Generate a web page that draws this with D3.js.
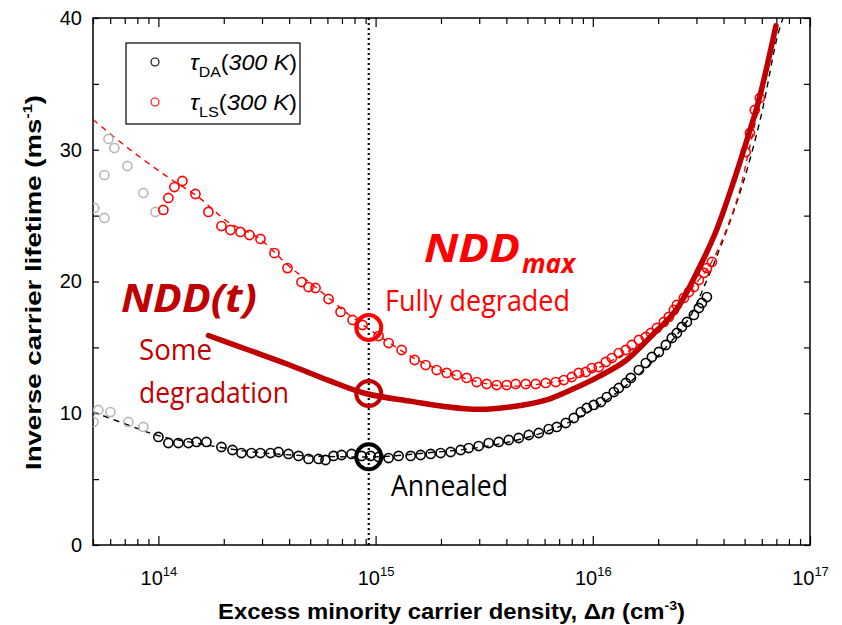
<!DOCTYPE html>
<html>
<head>
<meta charset="utf-8">
<script src="https://cdn.jsdelivr.net/npm/d3@7"></script>
<style>
  body { margin: 0; background: #fff; }
  svg text { font-family: "Liberation Sans", Arial, sans-serif; }
  .anno { font-family: "Open Sans", "Noto Sans", sans-serif; }
</style>
</head>
<body>
<div id="chart"></div>
<script>
// tau_DA (annealed) - grey points at low injection, then black
const daGrayX = [5.02e13, 5.29e13, 6.01e13, 7.27e13, 8.53e13];
const daGrayY = [9.34, 10.25, 10.09, 9.34, 8.96];
const daX = [1.00e14, 1.112e14, 1.236e14, 1.375e14, 1.497e14, 1.664e14, 1.951e14, 2.193e14, 2.413e14, 2.683e14,
  2.951e14, 3.282e14, 3.573e14, 3.972e14, 4.417e14, 4.912e14, 5.463e14, 5.883e14, 6.405e14, 6.972e14,
  7.751e14, 8.617e14, 9.482e14, 1.032e15, 1.148e15, 1.276e15, 1.450e15, 1.612e15, 1.793e15, 1.993e15,
  2.216e15, 2.464e15, 2.683e15, 2.983e15, 3.317e15, 3.688e15, 4.101e15, 4.560e15, 5.070e15, 5.638e15,
  6.268e15, 6.823e15, 7.509e15, 8.179e15, 8.806e15, 9.383e15, 1.011e16, 1.089e16, 1.160e16, 1.250e16,
  1.318e16, 1.419e16, 1.497e16, 1.629e16, 1.754e16, 1.871e16, 2.014e16, 2.169e16, 2.312e16, 2.438e16,
  2.571e16, 2.711e16, 2.920e16, 3.079e16, 3.178e16, 3.352e16];
const daY = [8.20, 7.74, 7.74, 7.74, 7.82, 7.82, 7.44, 7.21, 6.98, 6.98,
  6.98, 6.98, 7.06, 6.91, 6.76, 6.53, 6.53, 6.45, 6.76, 6.83,
  6.91, 6.76, 6.76, 6.68, 6.60, 6.76, 6.76, 6.83, 6.91, 6.98,
  7.06, 7.21, 7.36, 7.51, 7.74, 7.82, 7.97, 8.12, 8.35, 8.50,
  8.80, 8.96, 9.26, 9.64, 10.09, 10.40, 10.63, 10.85, 11.23, 11.61,
  11.92, 12.30, 12.68, 13.28, 13.81, 14.27, 14.65, 15.18, 15.71, 16.09,
  16.55, 16.93, 17.46, 17.99, 18.37, 18.82];

// tau_LS (light soaked) - grey points at low injection, then red
const lsGrayX = [5.07e13, 5.64e13, 5.64e13, 5.89e13, 6.27e13, 7.20e13, 8.53e13, 9.69e13];
const lsGrayY = [25.58, 24.82, 28.08, 30.82, 30.13, 28.77, 26.72, 25.28];
const lsX = [1.054e14, 1.112e14, 1.185e14, 1.290e14, 1.481e14, 1.700e14, 1.951e14, 2.147e14, 2.387e14, 2.627e14,
  2.951e14, 3.424e14, 3.930e14, 4.560e14, 4.912e14, 5.290e14, 6.073e14, 6.900e14, 7.834e14, 8.710e14,
  1.032e15, 1.148e15, 1.318e15, 1.513e15, 1.700e15, 1.910e15, 2.124e15, 2.361e15, 2.626e15, 2.920e15,
  3.247e15, 3.610e15, 4.014e15, 4.416e15, 4.911e15, 5.461e15, 6.073e15, 6.751e15, 7.353e15, 8.004e15,
  8.618e15, 9.284e15, 9.892e15, 1.066e16, 1.148e16, 1.224e16, 1.318e16, 1.419e16, 1.513e16, 1.629e16,
  1.754e16, 1.851e16, 1.972e16, 2.124e16, 2.239e16, 2.362e16, 2.438e16, 2.626e16, 2.769e16, 2.920e16,
  3.079e16, 3.247e16, 3.352e16, 3.535e16, 5.06e16, 5.29e16, 5.57e16, 5.88e16];
const lsY = [25.43, 26.34, 27.17, 27.63, 26.64, 25.28, 24.21, 23.91, 23.76, 23.53,
  23.23, 22.16, 21.02, 19.96, 19.58, 19.51, 18.67, 17.69, 17.08, 16.70,
  15.86, 15.33, 14.80, 14.04, 13.66, 13.28, 13.06, 12.90, 12.68, 12.37,
  12.22, 12.14, 12.14, 12.22, 12.22, 12.22, 12.30, 12.37, 12.52, 12.75,
  13.06, 13.13, 13.43, 13.51, 13.89, 14.19, 14.57, 14.80, 15.18, 15.56,
  15.79, 16.09, 16.47, 16.93, 17.31, 17.84, 18.22, 18.75, 19.20, 19.58,
  20.11, 20.65, 21.02, 21.48, 29.83, 31.27, 33.02, 33.93];

// dashed fits
const daFitX = [5e13, 7.28e13, 1e14, 1.53e14, 2.60e14, 4.42e14, 6.75e14, 1.03e15, 1.75e15, 2.99e15,
  5.07e15, 7.74e15, 1.07e16, 1.47e16, 2.01e16, 2.77e16, 3.35e16, 3.93e16, 4.86e16, 5.94e16, 7.05e16, 7.51e16];
const daFitY = [10.1, 9.1, 8.3, 7.7, 7.1, 6.8, 6.7, 6.7, 7.0, 7.4,
  8.2, 9.3, 10.6, 12.3, 14.4, 17.2, 20.1, 22.9, 27.2, 32.5, 38.5, 40.0];
const lsFitX = [5e13, 7.28e13, 1.11e14, 1.53e14, 2.10e14, 2.89e14, 3.97e14, 5.46e14, 7.51e14, 1.03e15,
  1.58e15, 2.41e15, 3.69e15, 5.64e15, 8.61e15, 1.32e16, 2.01e16, 2.77e16, 3.53e16, 4.61e16, 5.24e16, 5.95e16];
const lsFitY = [32.3, 30.1, 27.9, 26.4, 24.5, 23.3, 21.2, 19.4, 17.5, 15.9,
  14.0, 12.8, 12.1, 12.2, 12.8, 14.3, 16.3, 19.2, 21.5, 26.2, 30.0, 34.0];

// NDD(t) - partially degraded curve
const nddX = [1.70e14, 2.60e14, 3.97e14, 6.07e14, 9.00e14, 1.47e15, 2.10e15, 2.99e15, 4.24e15, 6.07e15,
  8.00e15, 1.07e16, 1.42e16, 1.87e16, 2.41e16, 3.08e16, 3.69e16, 4.37e16, 5.07e16, 5.82e16, 6.97e16];
const nddY = [15.9, 14.8, 13.7, 12.5, 11.5, 10.9, 10.5, 10.3, 10.5, 11.0,
  11.8, 12.8, 14.0, 15.9, 17.8, 21.0, 23.8, 27.2, 30.5, 33.8, 39.4];

// highlighted states at the marked injection level
const markX = 9.3e14;
const ringY = [16.5, 11.5, 6.7];
const ringColors = ["#ff0000", "#c00000", "#000000"];

const xMajor = [1e14, 1e15, 1e16, 1e17];
const xMinor = [];
[1e13, 1e14, 1e15, 1e16].forEach(d => { for (let k = 2; k <= 9; k++) if (k * d >= 5e13) xMinor.push(k * d); });
const yMajor = [0, 10, 20, 30, 40];
const yMinor = [5, 15, 25, 35];

const W = 842, H = 625;
const m = { top: 18, right: 32, bottom: 80, left: 93 };
const iw = W - m.left - m.right, ih = H - m.top - m.bottom;

const svg = d3.select('#chart').append('svg').attr('width', W).attr('height', H);
const g = svg.append('g').attr('transform', `translate(${m.left},${m.top})`);

const x = d3.scaleLog().domain([5e13, 1e17]).range([0, iw]);
const y = d3.scaleLinear().domain([0, 40]).range([ih, 0]);

svg.append('defs').append('clipPath').attr('id', 'clip')
  .append('rect').attr('width', iw).attr('height', ih);

// axes (ticks pointing inward)
const axisStyle = sel => {
  sel.select('.domain').remove();
  sel.selectAll('line').attr('stroke', '#000').attr('stroke-width', 1.2);
};
g.append('g').attr('transform', `translate(0,${ih})`)
  .call(d3.axisBottom(x).tickValues(xMinor).tickSize(-6).tickFormat('')).call(axisStyle);
const xb = g.append('g').attr('transform', `translate(0,${ih})`)
  .call(d3.axisBottom(x).tickValues(xMajor).tickSize(-9).tickFormat('')).call(axisStyle);
xb.selectAll('.tick').append('text')
  .attr('y', 40).attr('fill', '#000').attr('text-anchor', 'middle')
  .style('font-size', '20px')
  .each(function (d) {
    const t = d3.select(this);
    t.append('tspan').text('10');
    t.append('tspan').attr('dy', -9).style('font-size', '13px').text(Math.round(Math.log10(d)));
  });
g.append('g').call(d3.axisTop(x).tickValues(xMinor).tickSize(-6).tickFormat('')).call(axisStyle);
g.append('g').call(d3.axisTop(x).tickValues(xMajor).tickSize(-9).tickFormat('')).call(axisStyle);

g.append('g').call(d3.axisLeft(y).tickValues(yMinor).tickSize(-6).tickFormat('')).call(axisStyle);
const yl = g.append('g').call(d3.axisLeft(y).tickValues(yMajor).tickSize(-6)).call(axisStyle);
yl.selectAll('text').style('font-size', '20px').attr('fill', '#000').attr('x', -11);
g.append('g').attr('transform', `translate(${iw},0)`)
  .call(d3.axisRight(y).tickValues(yMajor.concat(yMinor)).tickSize(-6).tickFormat('')).call(axisStyle);

g.append('rect').attr('width', iw).attr('height', ih)
  .attr('fill', 'none').attr('stroke', '#000').attr('stroke-width', 1.5);

// axis titles
svg.append('text').attr('x', 218).attr('y', 619)
  .attr('textLength', 467).attr('lengthAdjust', 'spacingAndGlyphs')
  .style('font-size', '22px').style('font-weight', 'bold')
  .html('Excess minority carrier density, Δ<tspan font-style="italic">n</tspan> (cm<tspan dy="-9" font-size="13">-3</tspan><tspan dy="9">)</tspan>');
svg.append('text').attr('transform', 'translate(41,470) rotate(-90)')
  .attr('textLength', 375).attr('lengthAdjust', 'spacingAndGlyphs')
  .style('font-size', '22px').style('font-weight', 'bold')
  .html('Inverse carrier lifetime (ms<tspan dy="-9" font-size="13">-1</tspan><tspan dy="9">)</tspan>');

const plot = g.append('g').attr('clip-path', 'url(#clip)');

// dotted marker line
plot.append('line').attr('x1', x(markX)).attr('x2', x(markX)).attr('y1', 0).attr('y2', ih)
  .attr('stroke', '#000').attr('stroke-width', 2.2).attr('stroke-dasharray', '2,3');

const line = d3.line().curve(d3.curveCatmullRom);
const pts = (xs, ys) => xs.map((d, i) => [x(d), y(ys[i])]);

plot.append('path').attr('d', line(pts(daFitX, daFitY)))
  .attr('fill', 'none').attr('stroke', '#000').attr('stroke-width', 1.4).attr('stroke-dasharray', '6,5');
plot.append('path').attr('d', line(pts(lsFitX, lsFitY)))
  .attr('fill', 'none').attr('stroke', '#ff0000').attr('stroke-width', 1.4).attr('stroke-dasharray', '6,5');

const drawPoints = (xs, ys, color) => {
  plot.append('g').selectAll('circle')
    .data(xs.map((d, i) => [d, ys[i]]))
    .join('circle')
    .attr('cx', d => x(d[0])).attr('cy', d => y(d[1])).attr('r', 4.6)
    .attr('fill', 'none').attr('stroke', color).attr('stroke-width', 1.6);
};
drawPoints(lsGrayX, lsGrayY, '#b8b8b8');
drawPoints(daGrayX, daGrayY, '#b8b8b8');
drawPoints(lsX, lsY, '#ff0000');
drawPoints(daX, daY, '#000');

plot.append('path').attr('d', line(pts(nddX, nddY)))
  .attr('fill', 'none').attr('stroke', '#c00000').attr('stroke-width', 5.5).attr('stroke-linecap', 'round');

g.selectAll('.ring').data(ringY).join('circle')
  .attr('cx', x(markX)).attr('cy', d => y(d)).attr('r', 12.5)
  .attr('fill', 'none').attr('stroke', (d, i) => ringColors[i]).attr('stroke-width', 4);

// legend
const lg = svg.append('g');
lg.append('rect').attr('x', 126).attr('y', 43).attr('width', 174).attr('height', 81)
  .attr('fill', '#fff').attr('stroke', '#000').attr('stroke-width', 1.2);
[['DA', '#000', 62], ['LS', '#ff0000', 102]].forEach(([sub, c, cy]) => {
  lg.append('circle').attr('cx', 155).attr('cy', cy).attr('r', 4).attr('fill', 'none').attr('stroke', c).attr('stroke-width', 1.1);
  lg.append('text').attr('x', 190).attr('y', cy + 8).style('font-size', '22px')
    .attr('textLength', 107).attr('lengthAdjust', 'spacingAndGlyphs')
    .html(`<tspan font-style="italic">τ</tspan><tspan dy="7" font-size="15">${sub}</tspan><tspan dy="-7">(</tspan><tspan font-style="italic">300 K</tspan>)`);
});

// annotations
const anno = (txt, xx, yy, size, color, opts = {}) => {
  const t = svg.append('text').attr('class', 'anno').attr('x', xx).attr('y', yy)
    .attr('fill', color).style('font-size', size + 'px');
  if (opts.bold) t.style('font-weight', 'bold');
  if (opts.italic) t.style('font-style', 'italic');
  if (opts.len) t.attr('textLength', opts.len).attr('lengthAdjust', 'spacingAndGlyphs');
  t.text(txt);
  return t;
};
anno('NDD(t)', 121, 312, 40, '#c00000', { bold: true, italic: true, len: 136 });
anno('Some', 139, 360, 30, '#c00000', { len: 73 });
anno('degradation', 139, 403, 30, '#c00000', { len: 150 });
anno('NDD', 424, 262, 40, '#ff0000', { bold: true, italic: true, len: 96 });
anno('max', 522, 273, 26, '#ff0000', { bold: true, italic: true, len: 53 });
anno('Fully degraded', 385, 311, 30, '#ff0000', { len: 185 });
anno('Annealed', 391, 496, 30, '#000', { len: 117 });
</script>
</body>
</html>
